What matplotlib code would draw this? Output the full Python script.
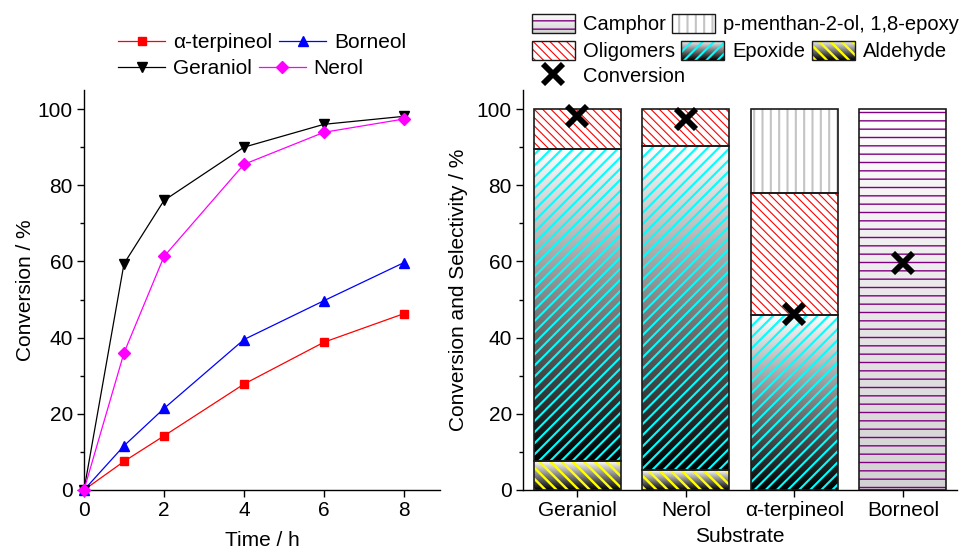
import numpy as np
import matplotlib
matplotlib.use("Agg")
import matplotlib.pyplot as plt
from matplotlib.colors import LinearSegmentedColormap
from matplotlib.patches import Rectangle
from matplotlib.lines import Line2D
from matplotlib.legend_handler import HandlerBase
from matplotlib.image import BboxImage
from matplotlib.transforms import Bbox, TransformedBbox
from matplotlib.ticker import MultipleLocator

plt.rcParams['font.family'] = ['Liberation Sans', 'DejaVu Sans']
plt.rcParams['axes.linewidth'] = 1.0

# ---- kinetics data (conversion vs time) ----
time_h = [0, 1, 2, 4, 6, 8]
conv_terpineol = [0, 7.5, 14.2, 27.8, 38.8, 46.3]
conv_borneol = [0, 11.6, 21.4, 39.5, 49.7, 59.7]
conv_geraniol = [0, 59.4, 76.0, 90.0, 96.0, 98.1]
conv_nerol = [0, 36.0, 61.3, 85.5, 93.9, 97.4]

# ---- selectivity data (stacked, bottom to top) ----
substrates = ['Geraniol', 'Nerol', 'α-terpineol', 'Borneol']
sel_aldehyde = [7.6, 5.2, 0, 0]
sel_epoxide = [81.9, 85.0, 45.9, 0]
sel_oligomers = [10.5, 9.8, 32.1, 0]
sel_menthanol = [0, 0, 22.0, 0]
sel_camphor = [0, 0, 0, 100]
conversion_8h = [98.2, 97.4, 46.3, 59.6]

fig = plt.figure(figsize=(9.6, 5.49), dpi=100)
ax1 = fig.add_axes([0.0875, 0.1075, 0.3708, 0.7285])
ax2 = fig.add_axes([0.5448, 0.1075, 0.4522, 0.7285])

FS = 15
for ax in (ax1, ax2):
    for s in ('top', 'right'):
        ax.spines[s].set_visible(False)
    ax.tick_params(axis='both', which='major', direction='out', length=5,
                   width=1, labelsize=FS, pad=3)
    ax.tick_params(axis='y', which='minor', direction='out', length=3, width=1)
    ax.set_ylim(0, 105)
    ax.yaxis.set_major_locator(MultipleLocator(20))
    ax.yaxis.set_minor_locator(MultipleLocator(10))

# ---- left panel ----
series = [
    ('α-terpineol', conv_terpineol, '#ff0000', 's', 6),
    ('Borneol', conv_borneol, '#0000ff', '^', 7),
    ('Geraniol', conv_geraniol, '#000000', 'v', 7),
    ('Nerol', conv_nerol, '#ff00ff', 'D', 6),
]
handles = {}
for name, vals, col, mk, ms in series:
    h, = ax1.plot(time_h, vals, color=col, lw=0.9, marker=mk, ms=ms,
                  mec=col, mfc=col, clip_on=False, zorder=3)
    handles[name] = h
ax1.set_xlim(0, 8.9)
ax1.xaxis.set_major_locator(MultipleLocator(2))
ax1.set_xlabel('Time / h', fontsize=FS, labelpad=8)
ax1.set_ylabel('Conversion / %', fontsize=FS, labelpad=2)

leg_kw = dict(frameon=False, fontsize=FS, loc='center left', borderpad=0,
              borderaxespad=0, handlelength=2.26, handletextpad=0.37,
              columnspacing=0.35)
for row, yy in ((['α-terpineol', 'Borneol'], 0.9222),
                (['Geraniol', 'Nerol'], 0.8756)):
    fig.legend([handles[n] for n in row], row, ncol=2,
               bbox_to_anchor=(0.1229, yy), **leg_kw)

# ---- right panel ----
x = np.arange(len(substrates))
W = 0.8

styles = [
    # label, values, hatch, hatch colour, hatch lw, gradient (top, bottom)
    ('Aldehyde', sel_aldehyde, '\\' * 3, '#ffff00', 1.7, ('#ffffff', '#000000')),
    ('Epoxide', sel_epoxide, '/' * 3, '#00ffff', 1.5, ('#ffffff', '#000000')),
    ('Oligomers', sel_oligomers, '\\' * 4, '#ff0000', 0.8, None),
    ('p-menthan-2-ol, 1,8-epoxy', sel_menthanol, '|' * 2, '#c4c4c4', 1.5, None),
    ('Camphor', sel_camphor, '-' * 2, '#800080', 1.0, ('#ffffff', '#d2d2d2')),
]

grad = np.linspace(0, 1, 256).reshape(-1, 1)


def make_cmap(top, bottom):
    return LinearSegmentedColormap.from_list('g', [bottom, top])


def set_hlw(p, lw):
    if hasattr(p, 'set_hatch_linewidth'):
        p.set_hatch_linewidth(lw)
    else:
        p._hatch_linewidth = lw


bottom = np.zeros(len(substrates))
for label, vals, hatch, hcol, hlw, gcols in styles:
    vals = np.asarray(vals, dtype=float)
    for i in range(len(substrates)):
        if vals[i] <= 0:
            continue
        x0, x1 = x[i] - W / 2, x[i] + W / 2
        y0, y1 = bottom[i], bottom[i] + vals[i]
        if gcols is not None:
            ax2.imshow(grad, extent=[x0, x1, y0, y1], origin='lower',
                       aspect='auto', cmap=make_cmap(*gcols),
                       interpolation='bilinear', zorder=1)
        hb = ax2.bar(x[i], vals[i], width=W, bottom=bottom[i],
                     facecolor='none', edgecolor=hcol, linewidth=0,
                     hatch=hatch, zorder=2)
        for p in hb:
            set_hlw(p, hlw)
        ax2.bar(x[i], vals[i], width=W, bottom=bottom[i], fill=False,
                edgecolor='#1a1a1a', linewidth=1.2, zorder=3)
    bottom += vals

ax2.plot(x, conversion_8h, linestyle='none', marker='x', ms=14, mew=4.2,
         color='black', zorder=5, clip_on=False)

ax2.set_xlim(-0.5, 3.5)
ax2.set_xticks(x)
ax2.set_xticklabels(substrates)
ax2.set_xlabel('Substrate', fontsize=FS, labelpad=5)
ax2.set_ylabel('Conversion and Selectivity / %', fontsize=FS, labelpad=6)


class GradientPatchHandler(HandlerBase):
    def __init__(self, hatch, hcol, hlw, gcols):
        super().__init__()
        self.hatch, self.hcol, self.hlw, self.gcols = hatch, hcol, hlw, gcols

    def create_artists(self, legend, orig_handle, xdescent, ydescent,
                       width, height, fontsize, trans):
        arts = []
        if self.gcols is not None:
            bb = TransformedBbox(Bbox.from_bounds(-xdescent, -ydescent,
                                                  width, height), trans)
            img = BboxImage(bb, cmap=make_cmap(*self.gcols),
                            interpolation='bilinear', origin='lower')
            img.set_data(grad)
            arts.append(img)
        hr = Rectangle((-xdescent, -ydescent), width, height,
                       facecolor='none', edgecolor=self.hcol, linewidth=0,
                       hatch=self.hatch, transform=trans)
        set_hlw(hr, self.hlw)
        arts.append(hr)
        arts.append(Rectangle((-xdescent, -ydescent), width, height,
                              fill=False, edgecolor='#1a1a1a', linewidth=1.0,
                              transform=trans))
        return arts


proxies = {}
hmap = {}
for label, vals, hatch, hcol, hlw, gcols in styles:
    r = Rectangle((0, 0), 1, 1)
    proxies[label] = r
    hmap[r] = GradientPatchHandler(hatch, hcol, hlw, gcols)

FS2 = 14.5
leg2_kw = dict(frameon=False, fontsize=FS2, loc='center left', borderpad=0,
               borderaxespad=0, handlelength=2.13, handleheight=1.09,
               handletextpad=0.4, columnspacing=0.33)
rows = [(['Camphor', 'p-menthan-2-ol, 1,8-epoxy'], 0.9563),
        (['Oligomers', 'Epoxide', 'Aldehyde'], 0.9071)]
for names, yy in rows:
    fig.legend([proxies[n] for n in names], names, ncol=len(names),
               handler_map=hmap, bbox_to_anchor=(0.5539, yy), **leg2_kw)

conv_h = Line2D([], [], linestyle='none', marker='x', ms=14, mew=4.2,
                color='black')
fig.legend([conv_h], ['Conversion'], bbox_to_anchor=(0.5539, 0.8616),
           **leg2_kw)

fig.savefig('out.png', dpi=100)
